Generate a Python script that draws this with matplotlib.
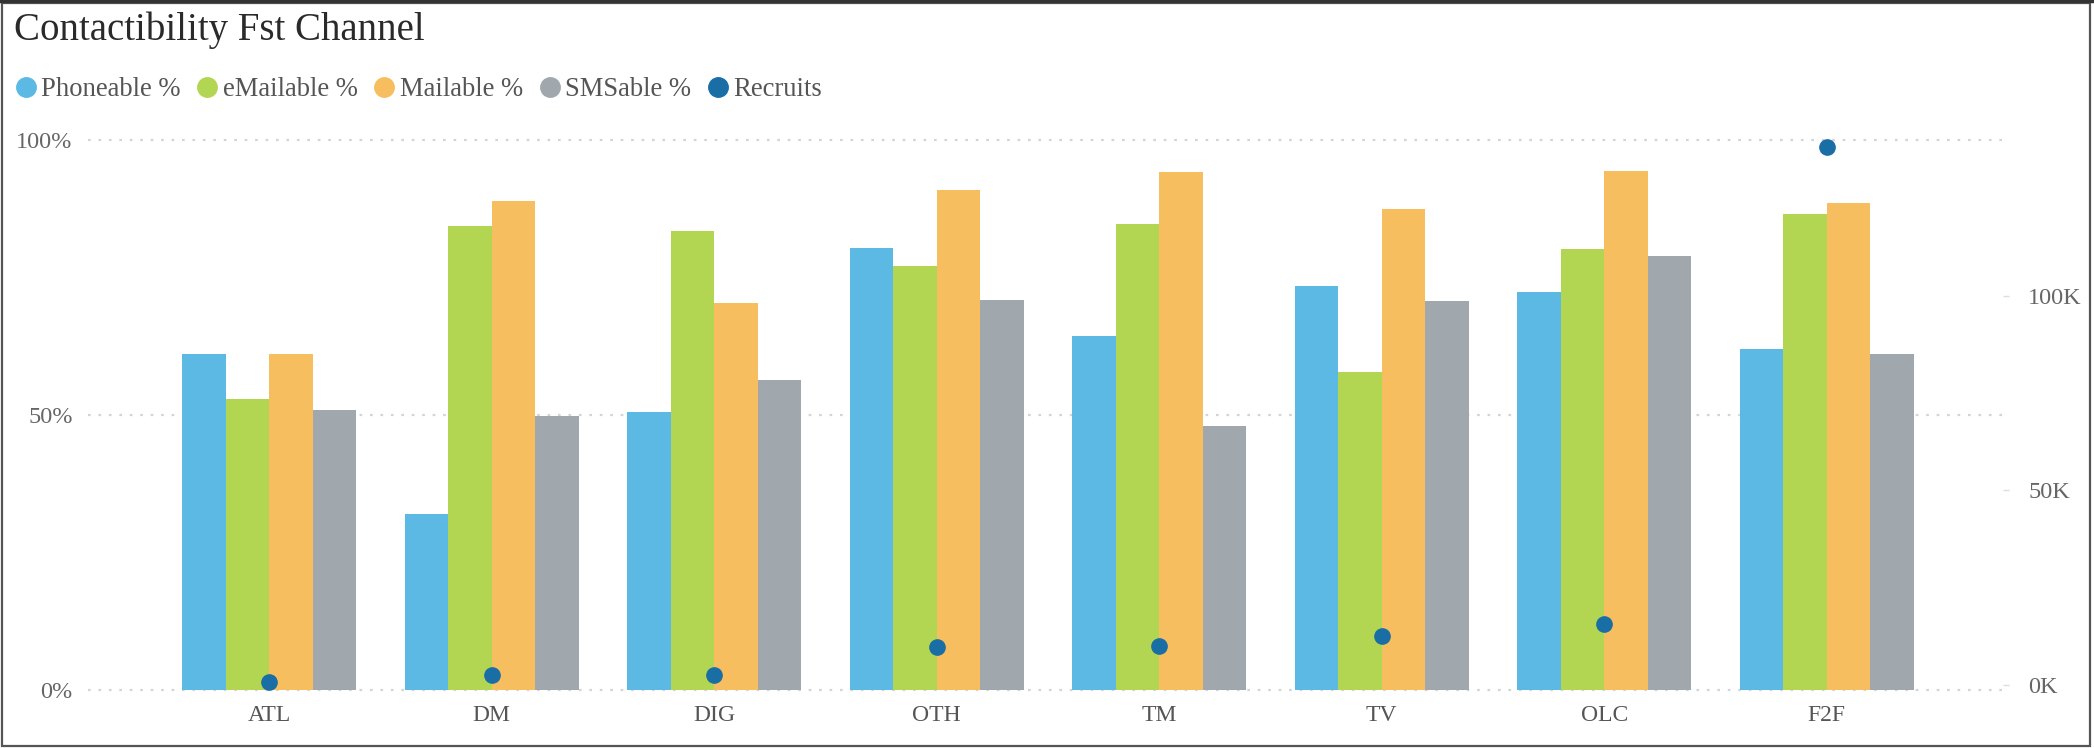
import matplotlib
matplotlib.use("Agg")
import matplotlib.pyplot as plt
from matplotlib.lines import Line2D
from matplotlib.patches import Rectangle
from matplotlib.ticker import FixedLocator, FuncFormatter
import numpy as np

# ---------------- data ----------------
categories = ["ATL", "DM", "DIG", "OTH", "TM", "TV", "OLC", "F2F"]
phoneable = [61.1, 31.9, 50.5, 80.4, 64.3, 73.5, 72.4, 61.9]
emailable = [52.9, 84.4, 83.4, 77.0, 84.7, 57.8, 80.2, 86.6]
mailable = [61.1, 88.8, 70.4, 90.9, 94.2, 87.4, 94.4, 88.6]
smsable = [50.8, 49.8, 56.4, 70.9, 47.9, 70.7, 78.9, 61.0]
recruits = [800, 2400, 2500, 9600, 9900, 12600, 15700, 138400]

series_names = ["Phoneable %", "eMailable %", "Mailable %", "SMSable %"]
recruits_name = "Recruits"
left_ticks = [0, 50, 100]
right_ticks = [0, 50000, 100000]

# ---------------- style ----------------
colors = ["#5cb9e4", "#b3d652", "#f6be5e", "#a0a8ad"]
recruit_color = "#1a6ea6"
serif = ["Liberation Serif", "DejaVu Serif"]
W, H = 2094, 748
DPI = 100

fig = plt.figure(figsize=(W / DPI, H / DPI), dpi=DPI)
fig.patch.set_facecolor("white")

# axes geometry in pixels
ax_left, ax_right = 88, 2003
ax_top, ax_bottom = 128.9, 689.7
ax = fig.add_axes([ax_left / W, 1 - ax_bottom / H,
                   (ax_right - ax_left) / W, (ax_bottom - ax_top) / H])

x = np.arange(len(categories))
bw = 0.1955
series = [phoneable, emailable, mailable, smsable]
for j, (vals, col) in enumerate(zip(series, colors)):
    ax.bar(x + (j - 1.5) * bw, vals, width=bw, color=col, linewidth=0, zorder=2)

ax.set_xlim(-0.814, len(categories) - 1 + 0.792)
ax.set_ylim(0, 102)
for v in left_ticks:
    ax.axhline(v, color="#d4d4d4", linestyle=(0, (1.2, 3.5)), linewidth=1.6, zorder=1, clip_on=False)

ax.yaxis.set_major_locator(FixedLocator(left_ticks))
ax.yaxis.set_major_formatter(FuncFormatter(lambda v, p: f"{int(v)}%"))
ax.set_xticks(x)
ax.set_xticklabels(categories)
ax.tick_params(axis="y", length=0, pad=11, labelsize=17.5, labelcolor="#666666")
ax.tick_params(axis="x", length=0, pad=11, labelsize=17, labelcolor="#555555")
for lab in ax.get_xticklabels() + ax.get_yticklabels():
    lab.set_family(serif)
for s in ax.spines.values():
    s.set_visible(False)

# secondary axis for recruits
ax2 = ax.twinx()
ax2.set_ylim(-1286, 142990)
ax2.plot(x, recruits, linestyle="none", marker="o", markersize=11,
         color=recruit_color, zorder=5)
ax2.yaxis.set_major_locator(FixedLocator(right_ticks))
ax2.yaxis.set_major_formatter(FuncFormatter(lambda v, p: f"{int(v/1000)}K"))
ax2.tick_params(axis="y", length=4, width=1, color="#dddddd", pad=14,
                labelsize=17.5, labelcolor="#666666")
for lab in ax2.get_yticklabels():
    lab.set_family(serif)
for s in ax2.spines.values():
    s.set_visible(False)

# title
fig.text(14 / W, 1 - 40 / H, "Contactibility Fst Channel", family=serif,
         fontsize=28, color="#2a2a2a", va="baseline", ha="left")

# legend
handles = [Line2D([], [], linestyle="none", marker="o", markersize=14,
                  color=c) for c in colors]
handles.append(Line2D([], [], linestyle="none", marker="o", markersize=14,
                      color=recruit_color))
leg = fig.legend(handles, series_names + [recruits_name], loc="center left",
                 bbox_to_anchor=(15 / W, 1 - 90 / H), ncol=5, frameon=False,
                 handlelength=0.8, handletextpad=0.18, columnspacing=0.6,
                 borderpad=0, borderaxespad=0,
                 prop={"family": serif, "size": 19.2})
for t in leg.get_texts():
    t.set_color("#555555")

# outer frame
fig.add_artist(Rectangle((2 / W, 2 / H), (W - 6) / W, (H - 5) / H,
                         transform=fig.transFigure, fill=False,
                         edgecolor="#555555", linewidth=1.6))
fig.add_artist(Line2D([0, 1], [1 - 1 / H, 1 - 1 / H], transform=fig.transFigure,
                      color="#333333", linewidth=2.5))

fig.savefig("out.png", dpi=DPI, facecolor="white")
